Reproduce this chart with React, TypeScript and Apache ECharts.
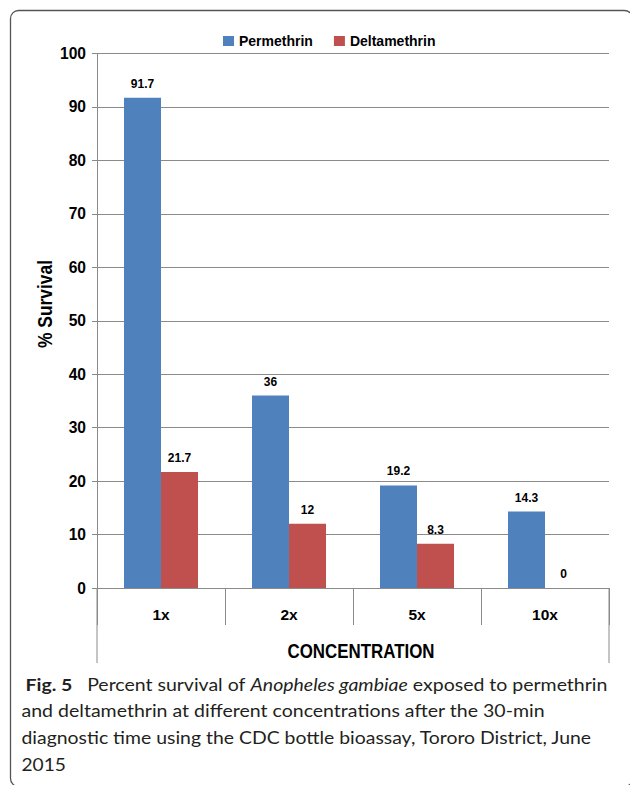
import React, { useEffect, useRef } from 'react';
import * as echarts from 'echarts';

// ---- data ----
const categories = ['1x', '2x', '5x', '10x'];
const permethrin = [91.7, 36, 19.2, 14.3];
const deltamethrin = [21.7, 12, 8.3, 0];
const seriesNames = ['Permethrin', 'Deltamethrin'];
const yMin = 0;
const yMax = 100;
const yStep = 10;
const yAxisTitle = '% Survival';
const xAxisTitle = 'CONCENTRATION';

type Seg = { t: string; s: 'b' | 'r' | 'i' };
const captionLine1: Seg[] = [
  { t: 'Fig. 5', s: 'b' },
  { t: '\u2002 Percent survival of ', s: 'r' },
  { t: 'Anopheles gambiae', s: 'i' },
  { t: ' exposed to permethrin', s: 'r' },
];
const captionLine2: Seg[] = [{ t: 'and deltamethrin at different concentrations after the 30-min', s: 'r' }];
const captionLine3: Seg[] = [{ t: 'diagnostic time using the CDC bottle bioassay, Tororo District, June', s: 'r' }];
const captionLine4: Seg[] = [{ t: '2015', s: 'r' }];

// ---- style / layout ----
const W = 630;
const H = 785;
const BLUE = '#4F81BD';
const RED = '#C0504D';
const GRAY = '#8a8a8a';
const LABEL_FONT = '"Liberation Sans", Arial, sans-serif';
const CAP_FONT = 'Lato, "Open Sans", sans-serif';
const CAP_SIZE = 16.5;
const NARROW = 0.84;

const gridL = 97;
const gridR = 609;
const gridT = 53.5;
const gridB = 588;

function fontFor(s: string) {
  if (s === 'b') return `bold ${CAP_SIZE}px ${CAP_FONT}`;
  if (s === 'i') return `italic ${CAP_SIZE}px ${CAP_FONT}`;
  return `${CAP_SIZE}px ${CAP_FONT}`;
}

function measure(segs: Seg[]): number {
  const c = document.createElement('canvas');
  const ctx = c.getContext('2d');
  if (!ctx) return 1;
  let w = 0;
  segs.forEach((sg) => {
    ctx.font = fontFor(sg.s);
    w += ctx.measureText(sg.t).width;
  });
  return w;
}

export default function App() {
  const ref = useRef<HTMLDivElement>(null);

  useEffect(() => {
    if (!ref.current) return;
    const chart = echarts.init(ref.current, null, { renderer: 'svg' });

    const rich = {
      b: { fontFamily: CAP_FONT, fontSize: CAP_SIZE, fontWeight: 'bold', fill: '#231f20', color: '#231f20' },
      r: { fontFamily: CAP_FONT, fontSize: CAP_SIZE, fontWeight: 'normal', fill: '#231f20', color: '#231f20' },
      i: { fontFamily: CAP_FONT, fontSize: CAP_SIZE, fontStyle: 'italic', fontWeight: 'normal', fill: '#231f20', color: '#231f20' },
    };

    const captionLines: { segs: Seg[]; x: number; y: number; target: number }[] = [
      { segs: captionLine1, x: 25.5, y: 684.5, target: 582 },
      { segs: captionLine2, x: 21.5, y: 711, target: 523.5 },
      { segs: captionLine3, x: 21.5, y: 737.8, target: 571 },
      { segs: captionLine4, x: 21.5, y: 764.5, target: 44.5 },
    ];

    const captionGraphics = captionLines.map((ln) => {
      const natural = measure(ln.segs);
      const sx = natural > 0 ? ln.target / natural : 1;
      return {
        type: 'text',
        x: ln.x,
        y: ln.y,
        scaleX: sx,
        style: {
          text: ln.segs.map((sg) => `{${sg.s}|${sg.t}}`).join(''),
          rich,
          align: 'left',
          verticalAlign: 'middle',
          fill: '#231f20',
        },
      };
    });

    const barLabel = {
      show: true,
      position: 'top',
      distance: 8,
      fontFamily: LABEL_FONT,
      fontSize: 12,
      fontWeight: 'bold',
      color: '#000',
    };

    const option: any = {
      animation: false,
      backgroundColor: '#ffffff',
      textStyle: { fontFamily: LABEL_FONT },
      legend: {
        data: seriesNames,
        left: 218,
        top: 29,
        icon: 'rect',
        itemWidth: 11,
        itemHeight: 10,
        itemGap: 21,
        textStyle: { fontFamily: LABEL_FONT, fontSize: 14, fontWeight: 'bold', color: '#000' },
      },
      grid: { left: gridL, top: gridT, width: gridR - gridL, height: gridB - gridT, containLabel: false },
      xAxis: {
        type: 'category',
        data: categories,
        boundaryGap: true,
        axisLine: { show: true, lineStyle: { color: GRAY, width: 1 } },
        axisTick: { show: true, alignWithLabel: false, length: 37, lineStyle: { color: GRAY, width: 1 } },
        axisLabel: { margin: 18.8, fontFamily: LABEL_FONT, fontSize: 15.5, fontWeight: 'bold', color: '#000' },
        splitLine: { show: false },
      },
      yAxis: {
        type: 'value',
        min: yMin,
        max: yMax,
        interval: yStep,
        axisLine: { show: true, lineStyle: { color: GRAY, width: 1 } },
        axisTick: { show: true, length: 5, lineStyle: { color: GRAY, width: 1 } },
        axisLabel: { margin: 11, fontFamily: LABEL_FONT, fontSize: 15.6, fontWeight: 'bold', color: '#000' },
        splitLine: { show: true, lineStyle: { color: GRAY, width: 1 } },
      },
      series: [
        {
          name: seriesNames[0],
          type: 'bar',
          data: permethrin,
          barWidth: 37,
          barGap: '0%',
          itemStyle: { color: BLUE },
          label: barLabel,
        },
        {
          name: seriesNames[1],
          type: 'bar',
          data: deltamethrin,
          barWidth: 37,
          barGap: '0%',
          itemStyle: { color: RED },
          label: barLabel,
        },
      ],
      graphic: [
        {
          type: 'rect',
          shape: { x: 10.5, y: 10.5, width: 622, height: 776, r: 8 },
          style: { fill: 'none', stroke: '#555555', lineWidth: 1.3 },
          silent: true,
        },
        {
          type: 'line',
          shape: { x1: gridL, y1: gridB, x2: gridL, y2: 663 },
          style: { stroke: GRAY, lineWidth: 1 },
          silent: true,
        },
        {
          type: 'line',
          shape: { x1: gridR, y1: gridB, x2: gridR, y2: 663 },
          style: { stroke: GRAY, lineWidth: 1 },
          silent: true,
        },
        {
          type: 'text',
          x: 45,
          y: 304,
          rotation: Math.PI / 2,
          scaleX: NARROW,
          style: {
            text: yAxisTitle,
            fontFamily: LABEL_FONT,
            fontSize: 17.4 / NARROW,
            fontWeight: 'bold',
            fill: '#000',
            align: 'center',
            verticalAlign: 'middle',
          },
        },
        {
          type: 'text',
          x: 361,
          y: 650.5,
          scaleX: NARROW,
          style: {
            text: xAxisTitle,
            fontFamily: LABEL_FONT,
            fontSize: 16.9 / NARROW,
            fontWeight: 'bold',
            fill: '#000',
            align: 'center',
            verticalAlign: 'middle',
          },
        },
        ...captionGraphics,
      ],
    };

    chart.setOption(option);
    return () => chart.dispose();
  }, []);

  return (
    <div
      ref={ref}
      style={{ position: 'absolute', left: 0, top: 0, width: W, height: H, background: '#fff' }}
    />
  );
}
